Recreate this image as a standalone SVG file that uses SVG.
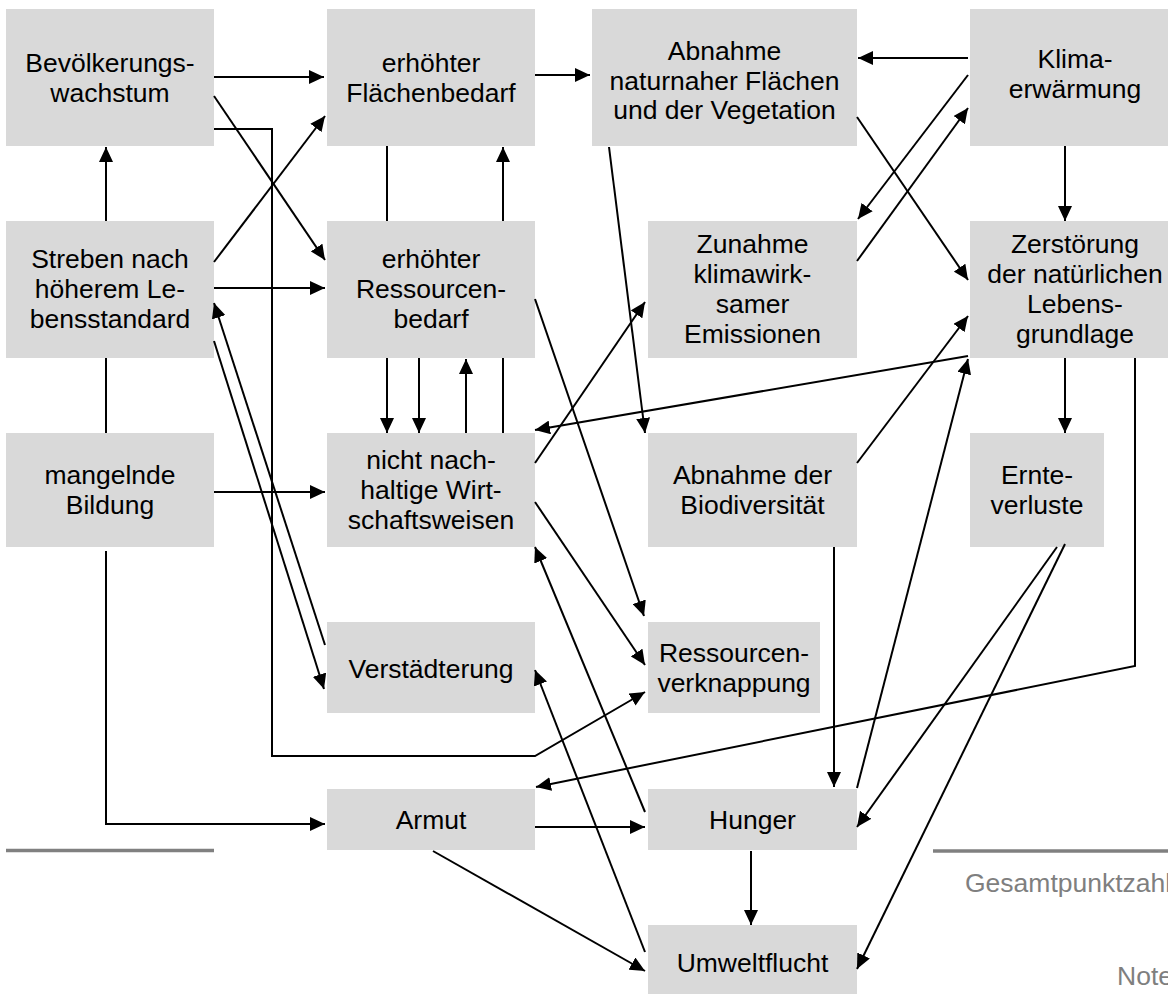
<svg xmlns="http://www.w3.org/2000/svg" width="1168" height="994" viewBox="0 0 1168 994">
<style>
.box{fill:#d9d9d9}
.t{font-family:"Liberation Sans",Arial,sans-serif;font-size:26.5px;fill:#000;text-anchor:middle}
.c path{fill:none;stroke:#000;stroke-width:2}
.a{marker-end:url(#ah)}
.sep{stroke:#808080;stroke-width:3.5}
.g{font-family:"Liberation Sans",Arial,sans-serif;font-size:26.5px;fill:#7f7f7f}
</style>
<defs>
<marker id="ah" markerUnits="userSpaceOnUse" viewBox="0 0 15 14" refX="15" refY="7" markerWidth="15" markerHeight="14" orient="auto">
<path d="M0,0 L15,7 L0,14 Z" fill="#000"/>
</marker>
</defs>
<rect width="1168" height="994" fill="#fff"/>

<g id="n-bevoelkerung"><rect class="box" x="6" y="9" width="208" height="137"/><text class="t" x="110" y="72">Bevölkerungs-</text><text class="t" x="110" y="102">wachstum</text></g>
<g id="n-flaechenbedarf"><rect class="box" x="327" y="9" width="208" height="137"/><text class="t" x="431" y="72">erhöhter</text><text class="t" x="431" y="102">Flächenbedarf</text></g>
<g id="n-abnahme-flaechen"><rect class="box" x="592" y="9" width="265" height="137"/><text class="t" x="724.5" y="60">Abnahme</text><text class="t" x="724.5" y="89.5">naturnaher Flächen</text><text class="t" x="724.5" y="119">und der Vegetation</text></g>
<g id="n-klima"><rect class="box" x="970" y="9" width="210" height="137"/><text class="t" x="1075" y="68">Klima-</text><text class="t" x="1075" y="98">erwärmung</text></g>

<g id="n-streben"><rect class="box" x="6" y="221" width="208" height="137"/><text class="t" x="110" y="268">Streben nach</text><text class="t" x="110" y="298">höherem Le-</text><text class="t" x="110" y="328">bensstandard</text></g>
<g id="n-ressourcenbedarf"><rect class="box" x="327" y="221" width="208" height="137"/><text class="t" x="431" y="268">erhöhter</text><text class="t" x="431" y="298">Ressourcen-</text><text class="t" x="431" y="328">bedarf</text></g>
<g id="n-emissionen"><rect class="box" x="648" y="221" width="209" height="137"/><text class="t" x="752.5" y="253">Zunahme</text><text class="t" x="752.5" y="283">klimawirk-</text><text class="t" x="752.5" y="313">samer</text><text class="t" x="752.5" y="343">Emissionen</text></g>
<g id="n-zerstoerung"><rect class="box" x="970" y="221" width="210" height="137"/><text class="t" x="1075" y="253">Zerstörung</text><text class="t" x="1075" y="283">der natürlichen</text><text class="t" x="1075" y="313">Lebens-</text><text class="t" x="1075" y="343">grundlage</text></g>

<g id="n-bildung"><rect class="box" x="6" y="433" width="208" height="114"/><text class="t" x="110" y="484">mangelnde</text><text class="t" x="110" y="514">Bildung</text></g>
<g id="n-wirtschaft"><rect class="box" x="327" y="433" width="208" height="114"/><text class="t" x="431" y="469">nicht nach-</text><text class="t" x="431" y="499">haltige Wirt-</text><text class="t" x="431" y="529">schaftsweisen</text></g>
<g id="n-biodiversitaet"><rect class="box" x="648" y="433" width="209" height="114"/><text class="t" x="752.5" y="484">Abnahme der</text><text class="t" x="752.5" y="514">Biodiversität</text></g>
<g id="n-ernte"><rect class="box" x="970" y="433" width="134" height="114"/><text class="t" x="1037" y="484">Ernte-</text><text class="t" x="1037" y="514">verluste</text></g>

<g id="n-verstaedterung"><rect class="box" x="327" y="622" width="208" height="91"/><text class="t" x="431" y="678">Verstädterung</text></g>
<g id="n-verknappung"><rect class="box" x="648" y="622" width="172" height="91"/><text class="t" x="734" y="662">Ressourcen-</text><text class="t" x="734" y="692">verknappung</text></g>

<g id="n-armut"><rect class="box" x="327" y="789" width="208" height="61"/><text class="t" x="431" y="829">Armut</text></g>
<g id="n-hunger"><rect class="box" x="648" y="789" width="209" height="61"/><text class="t" x="752.5" y="829">Hunger</text></g>
<g id="n-umweltflucht"><rect class="box" x="648" y="925" width="209" height="69"/><text class="t" x="752.5" y="972">Umweltflucht</text></g>

<g id="connectors" class="c">
<path class="a" d="M214,77 H324"/>
<path class="a" d="M214,96 L325,260"/>
<path class="a" d="M214,262 L325,116"/>
<path class="a" d="M214,129 H272 V756 H535 L645,692"/>
<path class="a" d="M106,221 V147"/>
<path class="a" d="M214,288 H325"/>
<path d="M106,358 V433"/>
<path class="a" d="M214,492 H325"/>
<path class="a" d="M106,551 V824 H325"/>
<path class="a" d="M214,341 L324,689"/>
<path class="a" d="M325,645 L214,303"/>
<path d="M387,146 V221"/>
<path class="a" d="M503,221 V147"/>
<path class="a" d="M387,358 V433"/>
<path class="a" d="M419,358 V433"/>
<path class="a" d="M466,433 V359"/>
<path d="M503,358 V433"/>
<path class="a" d="M535,299 L644,616"/>
<path class="a" d="M535,463 L645,302"/>
<path class="a" d="M535,502 L645,665"/>
<path class="a" d="M645,812 L535,547"/>
<path class="a" d="M645,952 L535,670"/>
<path class="a" d="M535,827 H645"/>
<path class="a" d="M433,851 L645,971"/>
<path class="a" d="M751,851 V925"/>
<path class="a" d="M1135,358 V666 L536,787"/>
<path class="a" d="M535,75 H590"/>
<path class="a" d="M968,58 H858"/>
<path class="a" d="M968,75 L858,219"/>
<path class="a" d="M857,261 L968,108"/>
<path class="a" d="M857,117 L968,280"/>
<path class="a" d="M1065,146 V221"/>
<path class="a" d="M1065,358 V433"/>
<path class="a" d="M609,147 L645,433"/>
<path class="a" d="M968,356 L535,430"/>
<path class="a" d="M857,463 L968,316"/>
<path class="a" d="M857,788 L968,359"/>
<path class="a" d="M834,547 V787"/>
<path class="a" d="M1057,547 L857,827"/>
<path class="a" d="M1065,544 L857,969"/>
</g>

<g id="footer">
<line class="sep" x1="6" y1="850.5" x2="214" y2="850.5"/>
<line class="sep" x1="933" y1="851" x2="1168" y2="851"/>
<text class="g" x="965" y="892">Gesamtpunktzahl</text>
<text class="g" x="1117" y="985">Note</text>
</g>
</svg>
